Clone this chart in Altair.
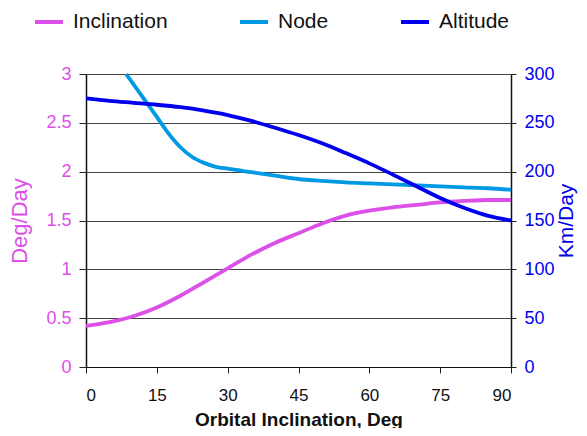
import altair as alt
import pandas as pd

series = ["Inclination", "Node", "Altitude"]
colors = ["#DC4FE8", "#0099E3", "#0000EE"]

incl_x = [0, 5, 10, 15, 20, 25, 30, 35, 40, 45, 50, 55, 60, 65, 70, 75, 80, 85, 90]
incl_y = [0.42, 0.46, 0.52, 0.61, 0.73, 0.87, 1.01, 1.15, 1.27, 1.37, 1.47, 1.55,
          1.60, 1.635, 1.66, 1.685, 1.70, 1.71, 1.71]

node_x = [8.5, 10, 12.5, 15, 17.5, 20, 22.5, 25, 27.5, 30, 35, 40, 45, 50, 55, 60,
          65, 70, 75, 80, 85, 90]
node_y = [3.0, 2.9, 2.73, 2.56, 2.39, 2.25, 2.15, 2.09, 2.05, 2.03, 1.995, 1.96,
          1.925, 1.905, 1.89, 1.88, 1.87, 1.86, 1.85, 1.84, 1.83, 1.815]

alt_x = [0, 5, 10, 15, 20, 25, 30, 35, 40, 45, 50, 55, 60, 65, 70, 75, 80, 85, 90]
alt_y = [275, 272.5, 270.5, 268.5, 266, 262.5, 258, 252, 245, 237.5, 229, 219, 208.5,
         197, 185, 173, 163, 155, 150]

x_ticks = [0, 15, 30, 45, 60, 75, 90]
left_ticks = [0, 0.5, 1, 1.5, 2, 2.5, 3]
right_ticks = [0, 50, 100, 150, 200, 250, 300]

left_df = pd.concat([
    pd.DataFrame({"x": incl_x, "v": incl_y, "s": "Inclination"}),
    pd.DataFrame({"x": node_x, "v": node_y, "s": "Node"}),
])
right_df = pd.DataFrame({"x": alt_x, "v": alt_y, "s": "Altitude"})

FONT = "Liberation Sans"

color = alt.Color(
    "s:N",
    scale=alt.Scale(domain=series, range=colors),
    sort=series,
    legend=alt.Legend(
        title=None, orient="none", direction="horizontal",
        legendX=-53, legendY=-68, symbolType="stroke", symbolSize=784,
        symbolStrokeWidth=4, labelFontSize=21, labelFont=FONT, labelColor="#111",
        labelOffset=8, columnPadding=64, padding=0,
    ),
)

xenc = alt.X(
    "x:Q",
    scale=alt.Scale(domain=[0, 90], nice=False),
    axis=alt.Axis(
        values=x_ticks, title="Orbital Inclination, Deg", grid=False,
        labelFontSize=17, labelFont=FONT, labelColor="#111", labelPadding=14,
        tickSize=6, tickColor="#222", domainColor="#111", domainWidth=1.2,
        titleFontSize=19, titleFont=FONT, titleFontWeight="bold", titleColor="#111",
        titlePadding=7,
    ),
)

left = alt.Chart(left_df).mark_line(strokeWidth=3.8, interpolate="monotone").encode(
    x=xenc,
    y=alt.Y(
        "v:Q",
        scale=alt.Scale(domain=[0, 3], nice=False),
        axis=alt.Axis(
            values=left_ticks, format="~g", title="Deg/Day", orient="left", grid=True,
            gridColor="#444", gridWidth=1.2, labelFontSize=18, labelFont=FONT,
            labelColor="#DC4FE8", labelPadding=8, tickSize=7, tickColor="#222",
            domainColor="#111", domainWidth=1.5, titleFontSize=22, titleFont=FONT,
            titleFontWeight="normal", titleColor="#DC4FE8", titlePadding=14,
        ),
    ),
    color=color,
)

right = alt.Chart(right_df).mark_line(strokeWidth=3.8, interpolate="monotone").encode(
    x=xenc,
    y=alt.Y(
        "v:Q",
        scale=alt.Scale(domain=[0, 300], nice=False),
        axis=alt.Axis(
            values=right_ticks, title="Km/Day", orient="right", grid=False,
            labelFontSize=18, labelFont=FONT, labelColor="#0000EE", labelPadding=8,
            tickSize=5, tickColor="#222", domainColor="#111", domainWidth=1.5,
            titleFontSize=21, titleFont=FONT, titleFontWeight="normal",
            titleColor="#0000EE", titlePadding=22, titleAngle=270,
        ),
    ),
    color=color,
)

chart = alt.layer(left, right).resolve_scale(y="independent").properties(
    width=425, height=293,
    autosize=alt.AutoSizeParams(type="none"),
    padding={"left": 78, "top": 66, "right": 68, "bottom": 61},
).configure_view(stroke=None).configure(background="white")

chart.save("out.html", embed_options={"renderer": "svg", "actions": False})
